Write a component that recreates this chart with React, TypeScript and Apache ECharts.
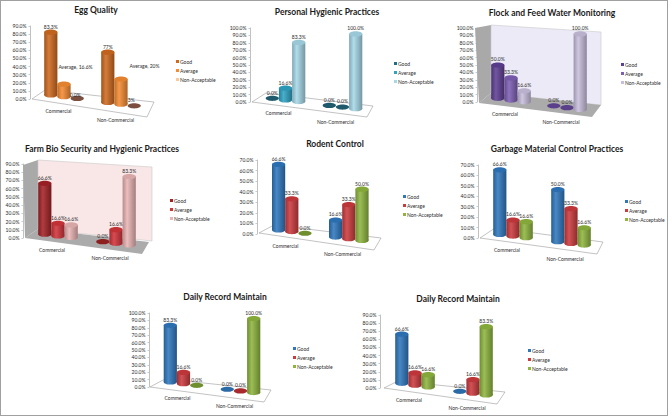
import React, { useEffect, useRef } from "react";
import * as echarts from "echarts";

const categories = ["Commercial", "Non-Commercial"];
const seriesNames = ["Good", "Average", "Non-Acceptable"];

const eggValues = [[83.3, 16.6, 0], [66.6, 33.3, 0]];
const eggLabels = [["83.3%", "Average, 16.6%", "0.0%"], ["77%", "Average, 20%", "3%"]];
const hygieneValues = [[0, 16.6, 83.3], [0, 0, 100]];
const hygieneLabels = [["0.0%", "16.6%", "83.3%"], ["0.0%", "0.0%", "100.0%"]];
const flockValues = [[50, 33.3, 16.6], [0, 0, 100]];
const flockLabels = [["50.0%", "33.3%", "16.6%"], ["0.0%", "0.0%", "100.0%"]];
const farmValues = [[66.6, 16.6, 16.6], [0, 16.6, 83.3]];
const farmLabels = [["66.6%", "16.6%", "16.6%"], ["0.0%", "16.6%", "83.3%"]];
const rodentValues = [[66.6, 33.3, 0], [16.6, 33.3, 50]];
const rodentLabels = [["66.6%", "33.3%", "0.0%"], ["16.6%", "33.3%", "50.0%"]];
const garbageValues = [[66.6, 16.6, 16.6], [50, 33.3, 16.6]];
const garbageLabels = [["66.6%", "16.6%", "16.6%"], ["50.0%", "33.3%", "16.6%"]];
const recordAValues = [[83.3, 16.6, 0], [0, 0, 100]];
const recordALabels = [["83.3%", "16.6%", "0.0%"], ["0.0%", "0.0%", "100.0%"]];
const recordBValues = [[66.6, 16.6, 16.6], [0, 16.6, 83.3]];
const recordBLabels = [["66.6%", "16.6%", "16.6%"], ["0.0%", "16.6%", "83.3%"]];

const titles = [
  "Egg Quality",
  "Personal Hygienic Practices",
  "Flock and Feed Water Monitoring",
  "Farm Bio Security and Hygienic Practices",
  "Rodent Control",
  "Garbage Material Control Practices",
  "Daily Record Maintain",
  "Daily Record Maintain",
];
const allValues = [eggValues, hygieneValues, flockValues, farmValues, rodentValues, garbageValues, recordAValues, recordBValues];
const allLabels = [eggLabels, hygieneLabels, flockLabels, farmLabels, rodentLabels, garbageLabels, recordALabels, recordBLabels];

const office = { colors: ["#2F78BE", "#CC3A3E", "#8FB53F"], zero: ["#2A6AA6", "#A82A2E", "#6F8F2F"] };
const PALETTES = [
  { colors: ["#CF6A20", "#F58C32", "#FBC9A0"], zero: ["#7A4F3F", "#7A4F3F", "#7A4F3F"] },
  { colors: ["#1F6E86", "#2FA3C4", "#A6D8E8"], zero: ["#1F5A6C", "#1F5A6C", "#1F5A6C"] },
  { colors: ["#5F3F94", "#7E5FB4", "#C9BFDD"], zero: ["#5A3F8A", "#5A3F8A", "#5A3F8A"] },
  { colors: ["#A42226", "#D2343A", "#E9B4B4"], zero: ["#8E1F1F", "#8E1F1F", "#8E1F1F"] },
  office, office, office, office,
];

type Pt = [number, number];
const LAYOUTS: any[] = [
  { left: 30, top: 26, bottom: 99, width: 114, max: 90, shift: 5.5, slope: 0.13, base: 92.3, scale: [0.93, 0.93], titleX: 96, titleY: 5, legendX: 176, legendY: 59, gaps: [9, 18],
    floor: [[32, 99], [45, 90], [154, 102], [147, 117]], labelShift: { "0-1": [11.5, -12], "1-1": [23.5, -7], "0-2": [-2, 2.5], "1-2": [-3, 0] } },
  { left: 250, top: 28, bottom: 102, width: 114, max: 100, shift: 7, slope: 0.125, base: 95.5, scale: [0.96, 1.01], titleX: 327, titleY: 7, legendX: 394, legendY: 61, gaps: [8, 17],
    floor: [[252, 102], [266, 93], [373, 106], [367, 117]] },
  { left: 477, top: 28, bottom: 102, width: 112, max: 100, shift: 6, slope: 0.135, base: 95.5, scale: [0.9, 1.02], titleX: 552, titleY: 8, legendX: 621, legendY: 62, gaps: [9, 17],
    floor: [[479, 103], [491, 93], [601, 105], [592, 117]], solidFloor: "#ABABAB", sideWall: [[475, 28], [491, 25], [491, 93], [479, 103]], backWall: [[491, 25], [601, 32], [601, 105], [491, 93]], wallColor: "#ECEAF6" },
  { left: 23, top: 164, bottom: 238, width: 116, max: 90, shift: 6, slope: 0.127, base: 231.5, scale: [0.93, 1], titleX: 102, titleY: 144, legendX: 170, legendY: 198, gaps: [9, 17],
    floor: [[25, 238], [38, 229], [149, 242], [142, 254]], solidFloor: "#ABABAB", sideWall: [[23, 165], [38, 160], [38, 229], [25, 238]], backWall: [[38, 160], [152, 167], [152, 241], [38, 229]], wallColor: "#F9E6E6" },
  { left: 257, top: 160, bottom: 234, width: 114, max: 70, shift: 6.3, slope: 0.126, base: 227.2, scale: [0.93, 0.97], titleX: 335, titleY: 139, legendX: 403, legendY: 194, gaps: [9, 17],
    floor: [[259, 233], [274, 225], [381, 238], [374, 250]] },
  { left: 478, top: 165, bottom: 238, width: 116, max: 70, shift: 6, slope: 0.126, base: 231.7, scale: [0.93, 1], titleX: 557, titleY: 144, legendX: 625, legendY: 199, gaps: [9, 18],
    floor: [[480, 238], [495, 228], [603, 242], [597, 254]] },
  { left: 149, top: 313, bottom: 387, width: 114, max: 100, shift: 6, slope: 0.127, base: 379.3, scale: [0.92, 1], titleX: 225, titleY: 292, legendX: 293, legendY: 346, gaps: [8, 16],
    floor: [[150, 387], [165, 379], [271, 390], [264, 402]] },
  { left: 380, top: 315, bottom: 388, width: 116, max: 90, shift: 6, slope: 0.138, base: 380.3, scale: [0.91, 1.01], titleX: 458, titleY: 294, legendX: 528, legendY: 348, gaps: [9, 17],
    floor: [[384, 388], [398, 381], [505, 392], [497, 404]] },
];

const FONT = "Lato";
const SMALL = 5;
const INK = "#2b2b2b";
const BAR_W = 13.2;
const RY = 2.6;

function mix(hex: string, target: number, t: number) {
  const n = parseInt(hex.slice(1), 16);
  const ch = [(n >> 16) & 255, (n >> 8) & 255, n & 255].map((c) => Math.round(c + (target - c) * t));
  return `rgb(${ch[0]},${ch[1]},${ch[2]})`;
}

function cylinderRender(panel: number, s: number) {
  const lay = LAYOUTS[panel];
  const pal = PALETTES[panel];
  return (params: any, api: any) => {
    const cat = api.value(0);
    const v = api.value(1);
    const cx = api.coord([cat, 0])[0] + lay.shift + (s - 1) * BAR_W;
    const yb = lay.base + lay.slope * (cx - lay.left);
    const h = Math.abs(api.size([0, v])[1]) * lay.scale[cat];
    const yt = yb - h;
    const x0 = cx - BAR_W / 2;
    const color = pal.colors[s];
    const body = new echarts.graphic.LinearGradient(0, 0, 1, 0, [
      { offset: 0, color: mix(color, 0, 0.22) },
      { offset: 0.35, color: mix(color, 255, 0.12) },
      { offset: 1, color: mix(color, 0, 0.3) },
    ]);
    const children: any[] = [];
    if (v > 0) {
      children.push({ type: "ellipse", shape: { cx, cy: yb, rx: BAR_W / 2, ry: RY }, style: { fill: body } });
      children.push({ type: "rect", shape: { x: x0, y: yt, width: BAR_W, height: h }, style: { fill: body } });
      children.push({ type: "ellipse", shape: { cx, cy: yt, rx: BAR_W / 2, ry: RY }, style: { fill: mix(color, 0, 0.08) } });
    } else {
      children.push({ type: "ellipse", shape: { cx, cy: yb, rx: BAR_W / 2, ry: RY }, style: { fill: pal.zero[s] } });
    }
    const off = (lay.labelShift && lay.labelShift[`${cat}-${s}`]) || [0, 0];
    children.push({
      type: "text",
      style: {
        text: allLabels[panel][cat][s],
        x: cx + off[0],
        y: yt - RY - 0.5 + off[1],
        align: "center",
        verticalAlign: "bottom",
        fontSize: SMALL,
        fontFamily: FONT,
        fill: INK,
      },
    });
    return { type: "group", children };
  };
}

function poly(points: Pt[], fill: string, stroke?: string) {
  return { type: "polygon", silent: true, shape: { points }, style: { fill, stroke: stroke || "none", lineWidth: 0.6 } };
}

function buildOption() {
  const grid: any[] = [];
  const xAxis: any[] = [];
  const yAxis: any[] = [];
  const title: any[] = [];
  const legend: any[] = [];
  const series: any[] = [];
  const graphic: any[] = [];

  LAYOUTS.forEach((lay, i) => {
    grid.push({ left: lay.left, top: lay.top, width: lay.width, height: lay.bottom - lay.top });
    xAxis.push({
      gridIndex: i,
      type: "category",
      data: categories,
      axisLine: { show: false },
      axisTick: { show: false },
      axisLabel: {
        interval: 0,
        margin: lay.gaps[0],
        fontSize: SMALL,
        fontFamily: FONT,
        color: INK,
        formatter: (v: string, idx: number) => (idx === 0 ? `{a|${v}}` : `{b|${v}}`),
        rich: {
          a: { fontSize: SMALL, fontFamily: FONT, color: INK },
          b: { fontSize: SMALL, fontFamily: FONT, color: INK, padding: [lay.gaps[1] - lay.gaps[0], 0, 0, 0] },
        },
      },
    });
    yAxis.push({
      gridIndex: i,
      type: "value",
      min: 0,
      max: lay.max,
      interval: 10,
      splitLine: { show: false },
      axisLine: { show: true, lineStyle: { color: "#a6a6a6", width: 0.7 } },
      axisTick: { show: true, length: 1.5, lineStyle: { color: "#a6a6a6", width: 0.6 } },
      axisLabel: { margin: 3.5, fontSize: SMALL, fontFamily: FONT, color: INK, formatter: (v: number) => `${v.toFixed(1)}%` },
    });
    title.push({
      text: titles[i],
      left: lay.titleX,
      top: lay.titleY,
      padding: 0,
      textAlign: "center",
      textStyle: { fontSize: 8.5, fontWeight: "bold", fontFamily: FONT, color: "#1a1a1a" },
    });
    const pal = PALETTES[i];
    legend.push({
      orient: "vertical",
      left: lay.legendX,
      top: lay.legendY,
      padding: 0,
      itemWidth: 3,
      itemHeight: 3,
      itemGap: 4,
      selectedMode: false,
      icon: "rect",
      data: seriesNames.map((name, s) => ({ name, itemStyle: { color: pal.colors[s] } })),
      textStyle: { fontSize: SMALL, fontFamily: FONT, color: INK, padding: [0, 0, 0, -4] },
    });
    seriesNames.forEach((name, s) => {
      series.push({
        type: "custom",
        name,
        xAxisIndex: i,
        yAxisIndex: i,
        itemStyle: { color: pal.colors[s] },
        encode: { x: 0, y: 1 },
        data: categories.map((_, c) => [c, allValues[i][c][s]]),
        renderItem: cylinderRender(i, s),
        silent: true,
        z: 3 + s,
      });
    });
    if (lay.sideWall) graphic.push(poly(lay.sideWall, "#A9A9A9"));
    if (lay.backWall) graphic.push(poly(lay.backWall, lay.wallColor, "#c9c9c9"));
    graphic.push(poly(lay.floor, lay.solidFloor || "#ffffff", lay.solidFloor ? undefined : "#9a9a9a"));
  });

  return { animation: false, backgroundColor: "#ffffff", grid, xAxis, yAxis, title, legend, series, graphic };
}

export default function App() {
  const ref = useRef<HTMLDivElement>(null);
  useEffect(() => {
    const chart = echarts.init(ref.current!, undefined, { renderer: "svg" });
    chart.setOption(buildOption() as any);
    return () => chart.dispose();
  }, []);
  return (
    <div style={{ position: "absolute", left: 0, top: 0, width: 668, height: 416 }}>
      <div ref={ref} style={{ position: "absolute", left: 0, top: 0, width: 668, height: 416 }} />
      <div style={{ position: "absolute", left: 0, top: 0, width: 668, height: 416, boxSizing: "border-box", border: "1px solid #a0a0a0", pointerEvents: "none" }} />
    </div>
  );
}
